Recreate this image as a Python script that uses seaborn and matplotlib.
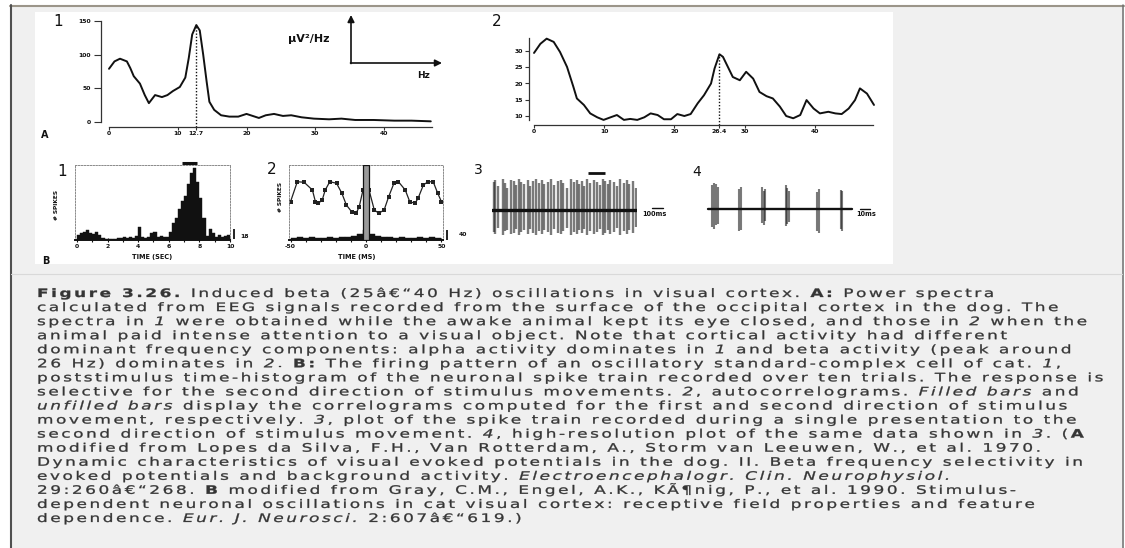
import numpy as np
import pandas as pd
import matplotlib
matplotlib.use("Agg")
import matplotlib.pyplot as plt
import seaborn as sns
from matplotlib.font_manager import FontProperties, findfont, get_font
from matplotlib.patches import Rectangle
from matplotlib.path import Path
from matplotlib.patheffects import AbstractPathEffect
from matplotlib.textpath import TextToPath
from matplotlib.transforms import Affine2D

# ---------------------------------------------------------------------------
# values
# ---------------------------------------------------------------------------
# A1: power spectrum, eyes closed (alpha peak)
a1_hz = [0, 0.8, 1.6, 2.6, 3.1, 3.6, 4.5, 5.2, 5.8, 6.7, 7.7, 8.5, 9.3, 10.3,
         11.1, 11.6, 12.1, 12.7, 13.2, 13.7, 14.2, 14.6, 15.3, 16.3, 17.5,
         18.8, 20.0, 20.9, 21.8, 22.8, 24.0, 25.3, 26.5, 28.0, 29.8, 32.0,
         33.8, 35.8, 38.5, 41.5, 44.0, 46.8]
a1_pow = [79, 90, 94, 90, 80, 68, 57, 40, 28, 40, 37, 40, 46, 52,
          66, 95, 130, 144, 136, 100, 60, 30, 18, 10, 8,
          8, 12, 9, 6, 10, 12, 9, 10, 7, 5, 4,
          5, 3, 3, 2, 2, 1]
a1_peak_hz = 12.7
a1_xticks = [0, 10, 12.7, 20, 30, 40]
a1_xticklabels = ["0", "10", "12.7", "20", "30", "40"]
a1_yticks = [0, 50, 100, 150]

# A2: power spectrum, attention (beta peak)
a2_hz = [0, 0.9, 1.8, 2.8, 3.7, 4.7, 5.6, 6.1, 7.1, 8.0, 9.0, 9.9, 10.9, 11.8,
         12.8, 13.7, 14.7, 15.7, 16.6, 17.6, 18.5, 19.5, 20.4, 21.4, 22.3,
         23.3, 24.2, 25.2, 25.7, 26.4, 26.9, 27.6, 28.3, 29.3, 30.2, 31.2,
         32.1, 33.1, 34.0, 35.0, 35.9, 36.9, 37.9, 38.8, 39.8, 40.7, 41.9,
         42.9, 43.8, 44.8, 45.7, 46.4, 47.4, 48.4]
a2_pow = [29.4, 32.2, 33.8, 32.8, 29.7, 25.1, 19.0, 15.4, 13.4, 10.8, 9.6, 8.8,
          9.6, 10.3, 8.8, 9.1, 8.8, 9.6, 10.8, 10.3, 9.0, 9.0, 10.6, 10.0,
          10.6, 13.9, 16.4, 20.0, 24.6, 29.0, 28.2, 25.1, 22.0, 21.0, 23.6,
          21.5, 17.4, 16.1, 15.4, 12.9, 10.0, 9.3, 10.3, 14.9, 12.3, 10.8,
          11.3, 10.8, 10.6, 12.3, 14.9, 18.5, 16.9, 13.4]
a2_peak_hz = 26.4
a2_xticks = [0, 10, 20, 26.4, 30, 40]
a2_xticklabels = ["0", "10", "20", "26.4", "30", "40"]
a2_yticks = [10, 15, 20, 25, 30]

# B1: poststimulus time histogram (0.2 s bins, 0-10 s)
b1_bin_sec = 0.2
b1_counts = [9, 12, 15, 18, 13, 11, 15, 9, 3, 2,
             1, 2, 1, 3, 4, 5, 3, 6, 4, 7,
             24, 6, 3, 5, 12, 15, 6, 7, 5, 6,
             15, 30, 40, 55, 70, 80, 100, 120, 129, 105,
             75, 40, 8, 20, 12, 6, 9, 5, 7, 9]
b1_xticks = [0, 2, 4, 6, 8, 10]
b1_scale = 18

# B2: autocorrelograms
b2_lag_ms = [-50, -45.5, -41, -35.5, -33.5, -31.5, -29, -27, -24, -19.5, -16,
             -13, -9.5, -6.5, -4.5, -2, 2, 5.5, 8.5, 12, 15, 18.5, 21.5, 26,
             29, 32.5, 34.5, 38, 41, 44.5, 47.5, 50]
b2_open = [153, 233, 231, 200, 153, 147, 160, 200, 233, 227, 187, 140, 113,
           107, 133, 200, 200, 120, 107, 120, 173, 227, 233, 200, 153, 147,
           167, 220, 233, 233, 187, 153]
b2_bin_ms = 4
b2_filled = [9, 11, 10, 12, 10, 9, 11, 10, 12, 14, 18, 26, 40, 26, 18, 14,
             12, 10, 11, 9, 10, 12, 10, 11, 9]
b2_center_peak = 300
b2_xticks = [-50, 0, 50]
b2_scale = 40

# B3: single-trial spike train
b3_spike_ms = [4, 14, 32, 67, 78, 97, 124, 143, 159, 175, 193, 216, 239, 258,
               274, 297, 320, 336, 354, 382, 400, 423, 451, 469, 487, 515,
               538, 561, 579, 595, 618, 634, 653, 676, 699, 722, 740, 763,
               779, 795, 814, 837, 860, 883, 910, 929, 947, 975, 991]
b3_up = [28, 30, 24, 31, 27, 22, 30, 29, 25, 31,
         28, 26, 30, 24, 29, 31, 27, 30, 26, 28,
         31, 25, 29, 30, 27, 22, 31, 28, 30, 26,
         29, 24, 31, 27, 30, 28, 25, 31, 29, 26,
         30, 28, 24, 31, 27, 30, 26, 29, 22]
b3_down = [22, 24, 18, 25, 21, 20, 24, 23, 19, 25,
           22, 20, 24, 19, 23, 25, 21, 24, 20, 22,
           25, 19, 23, 24, 21, 18, 25, 22, 24, 20,
           23, 19, 25, 21, 24, 22, 19, 25, 23, 20,
           24, 22, 18, 25, 21, 24, 20, 23, 17]

# B4: high-resolution view
b4_spike_ms = [7, 9, 11, 13, 34, 35.5, 57, 58.5, 60, 81, 82, 83.5, 112, 113.5, 136, 137]
b4_up = [24, 26, 25, 22, 20, 22, 22, 18, 20, 24, 21, 18, 17, 20, 19, 18]
b4_down = [18, 20, 16, 15, 22, 21, 14, 16, 12, 17, 15, 13, 22, 24, 20, 22]

caption_lines = [
    [("Figure 3.26.", "b"), (" Induced beta (25\u00e2\u20ac\u201c40 Hz) oscillations in visual cortex. ", "n"),
     ("A:", "b"), (" Power spectra", "n")],
    [("calculated from EEG signals recorded from the surface of the occipital cortex in the dog. The", "n")],
    [("spectra in ", "n"), ("1", "i"), (" were obtained while the awake animal kept its eye closed, and those in ", "n"),
     ("2", "i"), (" when the", "n")],
    [("animal paid intense attention to a visual object. Note that cortical activity had different", "n")],
    [("dominant frequency components: alpha activity dominates in ", "n"), ("1", "i"),
     (" and beta activity (peak around", "n")],
    [("26 Hz) dominates in ", "n"), ("2", "i"), (". ", "n"), ("B:", "b"),
     (" The firing pattern of an oscillatory standard-complex cell of cat. ", "n"), ("1", "i"), (",", "n")],
    [("poststimulus time-histogram of the neuronal spike train recorded over ten trials. The response is", "n")],
    [("selective for the second direction of stimulus movements. ", "n"), ("2", "i"), (", autocorrelograms. ", "n"),
     ("Filled bars", "i"), (" and", "n")],
    [("unfilled bars", "i"), (" display the correlograms computed for the first and second direction of stimulus", "n")],
    [("movement, respectively. ", "n"), ("3", "i"),
     (", plot of the spike train recorded during a single presentation to the", "n")],
    [("second direction of stimulus movement. ", "n"), ("4", "i"),
     (", high-resolution plot of the same data shown in ", "n"), ("3", "i"), (". (", "n"), ("A", "b")],
    [("modified from Lopes da Silva, F.H., Van Rotterdam, A., Storm van Leeuwen, W., et al. 1970.", "n")],
    [("Dynamic characteristics of visual evoked potentials in the dog. II. Beta frequency selectivity in", "n")],
    [("evoked potentials and background activity. ", "n"), ("Electroencephalogr. Clin. Neurophysiol.", "i")],
    [("29:260\u00e2\u20ac\u201c268. ", "n"), ("B", "b"),
     (" modified from Gray, C.M., Engel, A.K., K\u00c3\u00b6nig, P., et al. 1990. Stimulus-", "n")],
    [("dependent neuronal oscillations in cat visual cortex: receptive field properties and feature", "n")],
    [("dependence. ", "n"), ("Eur. J. Neurosci.", "i"), (" 2:607\u00e2\u20ac\u201c619.)", "n")],
]

# ---------------------------------------------------------------------------
# page layout (pixel coordinates of the 1125 x 548 screenshot)
# ---------------------------------------------------------------------------
W, H = 1125, 548
INK = "#111111"
TICK_PT = 4.4

sns.set_theme(style="white")
plt.rcParams["font.family"] = ["DejaVu Sans"]

fig = plt.figure(figsize=(W / 100, H / 100), dpi=100, facecolor="white")


def rect(x0, y0, x1, y1):
    return [x0 / W, 1 - y1 / H, (x1 - x0) / W, (y1 - y0) / H]


def panel(x0, y0, x1, y1):
    ax = fig.add_axes(rect(x0, y0, x1, y1), zorder=2)
    ax.set_facecolor("none")
    return ax


def bold_ticks(ax):
    for lab in ax.get_xticklabels() + ax.get_yticklabels():
        lab.set_fontweight("bold")
        lab.set_color(INK)


def dotted_frame(ax):
    for side in ("left", "top", "right"):
        ax.spines[side].set_visible(True)
        ax.spines[side].set_linestyle((0, (1.5, 1.5)))
        ax.spines[side].set_color("#8a8a8a")
        ax.spines[side].set_linewidth(0.7)
    ax.spines["bottom"].set_visible(True)
    ax.spines["bottom"].set_color(INK)
    ax.spines["bottom"].set_linewidth(1.4)


bg = fig.add_axes([0, 0, 1, 1], zorder=0)
bg.set_xlim(0, W)
bg.set_ylim(H, 0)
bg.axis("off")
bg.add_patch(Rectangle((10, 5), 1114, H - 5, facecolor="#f0f0f0", edgecolor="none"))
bg.add_patch(Rectangle((35, 12), 858, 252, facecolor="white", edgecolor="none"))
bg.plot([10, 1124], [5.5, 5.5], color="#9b9589", lw=1.5)
bg.plot([10.5, 10.5], [5, H], color="#505050", lw=1.5)
bg.plot([1123, 1123], [5, H], color="#707070", lw=1.1)
bg.plot([11, 1122], [274, 274], color="#d9d9d9", lw=0.8)


def label(x, y, s, size, weight="normal", **kw):
    kw.setdefault("ha", "center")
    bg.text(x, y, s, fontsize=size, fontweight=weight, va="center", color=INK, **kw)


# --------------------------------------------------------------------------
# A1
# --------------------------------------------------------------------------
ax = panel(100.75, 19.65, 435.6, 127.05)
sns.lineplot(x=a1_hz, y=a1_pow, ax=ax, color=INK, lw=1.4, estimator=None)
ax.vlines(a1_peak_hz, -7.5, max(a1_pow), color=INK, lw=1.0, linestyles=(0, (1, 1.3)))
ax.set_xlim(-1.2, 47.5)
ax.set_ylim(-7.5, 152)
ax.set_xticks(a1_xticks)
ax.set_xticklabels(a1_xticklabels)
ax.set_yticks(a1_yticks)
ax.set(xlabel="", ylabel="")
sns.despine(ax=ax)
ax.spines["left"].set_bounds(0, 150)
ax.spines["bottom"].set_bounds(0, 47)
for side in ("left", "bottom"):
    ax.spines[side].set_color("#333333")
    ax.spines[side].set_linewidth(0.9)
ax.tick_params(axis="y", direction="out", length=5, width=0.8, pad=2, labelsize=TICK_PT, left=True, color="#333")
ax.tick_params(axis="x", direction="out", length=2, width=0.8, pad=1, labelsize=TICK_PT, bottom=True, color="#333")
bold_ticks(ax)

label(58, 22, "1", 11)
label(45, 135, "A", 7, "bold")
label(309, 39, "\u03bcV\u00b2/Hz", 8, "bold")
label(423, 75, "Hz", 6.5, "bold")
bg.annotate("", xy=(351, 15), xytext=(351, 63.5),
            arrowprops=dict(arrowstyle="-|>", color=INK, lw=1.2, mutation_scale=10, shrinkA=0, shrinkB=0))
bg.annotate("", xy=(442, 63), xytext=(350.5, 63),
            arrowprops=dict(arrowstyle="-|>", color=INK, lw=1.2, mutation_scale=10, shrinkA=0, shrinkB=0))

# --------------------------------------------------------------------------
# A2
# --------------------------------------------------------------------------
ax = panel(529.1, 34.75, 878.2, 125.1)
sns.lineplot(x=a2_hz, y=a2_pow, ax=ax, color=INK, lw=1.4, estimator=None)
ax.vlines(a2_peak_hz, 7.2, max(a2_pow[20:]), color=INK, lw=1.0, linestyles=(0, (1, 1.3)))
ax.set_xlim(-0.7, 49)
ax.set_ylim(7.2, 35)
ax.set_xticks(a2_xticks)
ax.set_xticklabels(a2_xticklabels)
ax.set_yticks(a2_yticks)
ax.set(xlabel="", ylabel="")
sns.despine(ax=ax)
ax.spines["left"].set_bounds(8.8, 34)
ax.spines["bottom"].set_bounds(0, 48.3)
for side in ("left", "bottom"):
    ax.spines[side].set_color("#333333")
    ax.spines[side].set_linewidth(0.9)
ax.tick_params(axis="y", direction="out", length=3, width=0.8, pad=1.5, labelsize=TICK_PT, left=True, color="#333")
ax.tick_params(axis="x", direction="out", length=2, width=0.8, pad=1, labelsize=TICK_PT, bottom=True, color="#333")
bold_ticks(ax)
label(497, 22, "2", 11)

# --------------------------------------------------------------------------
# B1: PSTH
# --------------------------------------------------------------------------
ax = panel(75, 165, 230, 240)
b1_df = pd.DataFrame({"t": np.arange(len(b1_counts)) * b1_bin_sec + b1_bin_sec / 2,
                      "n": b1_counts})
sns.histplot(data=b1_df, x="t", weights="n", binwidth=b1_bin_sec,
             binrange=(0, len(b1_counts) * b1_bin_sec), ax=ax, color=INK,
             edgecolor=INK, linewidth=0.3, alpha=1)
ax.set_xlim(-0.13, 10.0)
ax.set_ylim(0, 135)
ax.set_xticks(b1_xticks)
ax.set_xticks([1, 3, 5, 7, 9], minor=True)
ax.set_yticks([])
ax.set(xlabel="", ylabel="")
dotted_frame(ax)
ax.tick_params(axis="x", which="both", direction="inout", length=3, width=0.8, pad=1.5,
               labelsize=TICK_PT, bottom=True, color=INK)
bold_ticks(ax)
ax.vlines(10.26, 1, 1 + b1_scale, color=INK, lw=1.3, clip_on=False)
bg.plot([182, 197], [163, 163], color=INK, lw=2.2, solid_capstyle="butt")
label(245, 236.5, "18", 4.4, "bold")
label(152, 257, "TIME (SEC)", 4.7, "bold")
label(57, 205, "# SPIKES", 4.2, "bold", rotation=90)
label(62, 172, "1", 11)
label(46, 261, "B", 7, "bold")

# --------------------------------------------------------------------------
# B2: autocorrelograms
# --------------------------------------------------------------------------
ax = panel(289, 165, 443, 240)
b2_df = pd.DataFrame({"lag": -50 + np.arange(len(b2_filled)) * b2_bin_ms + b2_bin_ms / 2,
                      "n": b2_filled})
sns.histplot(data=b2_df, x="lag", weights="n", binwidth=b2_bin_ms,
             binrange=(-50, -50 + len(b2_filled) * b2_bin_ms), ax=ax, color=INK,
             edgecolor=INK, linewidth=0.3, alpha=1)
sns.lineplot(x=b2_lag_ms, y=b2_open, ax=ax, color="#222222", lw=0.9, marker="s",
             markersize=2.2, markeredgewidth=0, estimator=None)
ax.bar(0, b2_center_peak, width=4, color="#9a9a9a", edgecolor=INK, linewidth=0.9, zorder=4)
ax.set_xlim(-51, 51)
ax.set_ylim(0, 300)
ax.set_xticks(b2_xticks)
ax.set_xticks([-40, -30, -20, -10, 10, 20, 30, 40], minor=True)
ax.set_xticklabels(["-50", "0", "50"])
ax.set_yticks([])
ax.set(xlabel="", ylabel="")
dotted_frame(ax)
ax.tick_params(axis="x", which="both", direction="inout", length=3, width=0.8, pad=1.5,
               labelsize=TICK_PT, bottom=True, color=INK)
bold_ticks(ax)
ax.vlines(53.5, 2, 2 + b2_scale, color=INK, lw=1.3, clip_on=False)
label(463, 234.5, "40", 4.4, "bold")
label(357, 257, "TIME (MS)", 4.7, "bold")
label(280, 197, "# SPIKES", 4.2, "bold", rotation=90)
label(272, 170, "2", 11)

# --------------------------------------------------------------------------
# B3, B4: spike trains
# --------------------------------------------------------------------------
ax = panel(492, 175, 637, 240)
ax.vlines(b3_spike_ms, -np.array(b3_down), b3_up, color="#222222", lw=1.7, alpha=0.6)
ax.axhline(0, color=INK, lw=2.4)
ax.set_xlim(-10, 1000)
ax.set_ylim(-30, 35)
ax.axis("off")
bg.plot([588, 605], [173, 173], color=INK, lw=2.0, solid_capstyle="butt")
bg.plot([652, 663], [208, 208], color=INK, lw=1.0)
label(642, 213.5, "100ms", 4.7, "bold", ha="left")
label(478, 170, "3", 10)

ax = panel(705, 175, 855, 240)
ax.vlines(b4_spike_ms, -np.array(b4_down), b4_up, color="#222222", lw=1.5, alpha=0.6)
ax.axhline(0, xmin=0.02, xmax=0.98, color=INK, lw=1.7)
ax.set_xlim(0, 150)
ax.set_ylim(-31, 34)
ax.axis("off")
bg.plot([860, 870], [209, 209], color=INK, lw=1.0)
label(856, 214, "10ms", 4.7, "bold", ha="left")
label(697, 172, "4", 10)

# --------------------------------------------------------------------------
# caption: tracked and widened Verdana-like text
# --------------------------------------------------------------------------
CAP_PT = 8.4
CAP_SX = 1.45
CAP_STROKE = 0.22
CAP_X0 = 37
CAP_Y0 = 297
CAP_DY = 14.06
CAP_REF_WIDTH = 1024  # width of the second caption line
CAP_COLOR = "#353535"

cap_props = {
    "n": FontProperties(family="DejaVu Sans", size=CAP_PT),
    "b": FontProperties(family="DejaVu Sans", weight="bold", size=CAP_PT),
    "i": FontProperties(family="DejaVu Sans", style="italic", size=CAP_PT),
}
T2P = TextToPath()


class Tracked(AbstractPathEffect):
    """Draw a pre-built glyph run, stretched horizontally and slightly emboldened."""

    def __init__(self, path, sx, stroke):
        super().__init__()
        self._path = path
        self._sx = sx
        self._stroke = stroke

    def draw_path(self, renderer, gc, tpath, affine, rgbFace=None):
        gc0 = renderer.new_gc()
        gc0.copy_properties(gc)
        gc0.set_linewidth(self._stroke)
        renderer.draw_path(gc0, self._path, Affine2D().scale(self._sx, 1.0) + affine, rgbFace)
        gc0.restore()


def glyph_run(text, prop, track):
    font = get_font(findfont(prop))
    x = 0.0
    verts, codes = [], []
    for ch in text:
        v, c = T2P.get_text_path(prop, ch)
        if len(v):
            verts.append(np.asarray(v, float) + [x, 0.0])
            codes.append(np.asarray(c))
        font.set_size(T2P.FONT_SCALE, T2P.DPI)
        x += font.load_char(ord(ch)).linearHoriAdvance / 65536 + track
    if not verts:
        return None, x
    return Path(np.concatenate(verts), np.concatenate(codes)), x


px_per_unit = CAP_PT * 100 / 72 / T2P.FONT_SCALE
ref = caption_lines[1]
natural = sum(glyph_run(t, cap_props[s], 0.0)[1] for t, s in ref)
nchar = sum(len(t) for t, s in ref)
track = (CAP_REF_WIDTH / (px_per_unit * CAP_SX) - natural) / nchar

for i, line in enumerate(caption_lines):
    x = CAP_X0
    y = CAP_Y0 + i * CAP_DY
    for text, style in line:
        path, adv = glyph_run(text, cap_props[style], track)
        effects = [Tracked(path, CAP_SX, CAP_STROKE)] if path is not None else []
        bg.text(x, y, text, fontproperties=cap_props[style], color=CAP_COLOR,
                ha="left", va="baseline", path_effects=effects)
        x += adv * px_per_unit * CAP_SX

fig.savefig("out.png", dpi=100, facecolor="white")
